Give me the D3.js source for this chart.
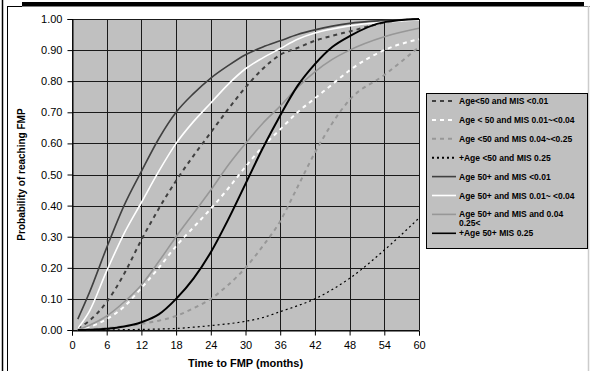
<!DOCTYPE html>
<html>
<head>
<meta charset="utf-8">
<script src="https://cdn.jsdelivr.net/npm/d3@7"></script>
<style>
  body { margin: 0; background: #fff; }
  svg { display: block; font-family: Arial, "Liberation Sans", sans-serif; }
</style>
</head>
<body>
<div id="chart"></div>
<script>
const months = [1, 3, 6, 9, 12, 15, 18, 21, 24, 27, 30, 33, 36, 39, 42, 45, 48, 54, 60];

// cumulative probability of reaching FMP, one array per group
const under50Mis001 = [0.005, 0.03, 0.09, 0.18, 0.29, 0.39, 0.48, 0.56, 0.635, 0.71, 0.78, 0.84, 0.885, 0.907, 0.93, 0.946, 0.96, 0.988, 1.0];
const under50Mis004 = [0.0, 0.01, 0.035, 0.075, 0.135, 0.20, 0.27, 0.33, 0.39, 0.455, 0.525, 0.59, 0.645, 0.70, 0.745, 0.79, 0.835, 0.90, 0.935];
const under50Mis025 = [0.0, 0.002, 0.006, 0.012, 0.02, 0.03, 0.045, 0.07, 0.10, 0.145, 0.20, 0.27, 0.35, 0.46, 0.57, 0.665, 0.74, 0.82, 0.91];
const under50MisHigh = [0.0, 0.0, 0.0, 0.001, 0.002, 0.003, 0.005, 0.009, 0.014, 0.02, 0.028, 0.04, 0.059, 0.078, 0.10, 0.13, 0.166, 0.257, 0.36];
const over50Mis001 = [0.035, 0.12, 0.265, 0.40, 0.51, 0.615, 0.70, 0.76, 0.81, 0.85, 0.885, 0.91, 0.93, 0.95, 0.965, 0.977, 0.986, 0.995, 1.0];
const over50Mis004 = [0.005, 0.06, 0.19, 0.31, 0.41, 0.51, 0.60, 0.67, 0.73, 0.79, 0.84, 0.875, 0.905, 0.935, 0.955, 0.968, 0.978, 0.99, 0.997];
const over50Mis025 = [0.0, 0.015, 0.045, 0.09, 0.145, 0.22, 0.30, 0.375, 0.45, 0.53, 0.60, 0.665, 0.72, 0.78, 0.83, 0.87, 0.90, 0.943, 0.97];
const over50MisHigh = [0.0, 0.001, 0.004, 0.011, 0.025, 0.05, 0.10, 0.165, 0.25, 0.355, 0.47, 0.585, 0.69, 0.785, 0.855, 0.91, 0.945, 0.99, 1.0];

const seriesLabels = [
  "Age<50 and MIS <0.01",
  "Age < 50 and MIS 0.01~<0.04",
  "Age <50 and MIS 0.04~<0.25",
  "+Age <50 and MIS 0.25",
  "Age 50+ and MIS <0.01",
  "Age 50+ and MIS 0.01~ <0.04",
  "Age 50+ and MIS and 0.04\n0.25<",
  "+Age 50+ MIS 0.25"
];
const seriesValues = [under50Mis001, under50Mis004, under50Mis025, under50MisHigh,
  over50Mis001, over50Mis004, over50Mis025, over50MisHigh];

const xTicks = d3.range(0, 61, 6);
const yTicks = d3.range(0, 11).map(d => d / 10);

// line styles, same order as the series
const styles = [
  { color: '#404040', dash: '4,4', width: 2 },
  { color: '#ffffff', dash: '4,4', width: 2 },
  { color: '#979797', dash: '4,4', width: 2 },
  { color: '#000000', dash: '2,3', width: 1.2 },
  { color: '#404040', dash: null, width: 1.6 },
  { color: '#ffffff', dash: null, width: 1.6 },
  { color: '#979797', dash: null, width: 1.6 },
  { color: '#000000', dash: null, width: 2 }
];

const W = 590, H = 371;
const svg = d3.select('#chart').append('svg')
  .attr('width', W)
  .attr('height', H);

svg.append('rect').attr('width', W).attr('height', H).attr('fill', '#fff');

// frame bits round the picture
svg.append('line').attr('x1', 2.5).attr('x2', 2.5).attr('y1', 0).attr('y2', H)
  .attr('stroke', '#000').attr('stroke-width', 1.5);
svg.append('line').attr('x1', 7.5).attr('x2', 7.5).attr('y1', 6).attr('y2', H)
  .attr('stroke', '#000').attr('stroke-width', 1);
svg.append('line').attr('x1', 7.5).attr('x2', 22).attr('y1', 6.5).attr('y2', 6.5)
  .attr('stroke', '#000').attr('stroke-width', 1);
svg.append('rect').attr('x', 22).attr('y', 2).attr('width', 562).attr('height', 4.5)
  .attr('fill', '#000');
svg.append('line').attr('x1', 584).attr('x2', 590).attr('y1', 6.5).attr('y2', 6.5)
  .attr('stroke', '#888').attr('stroke-width', 1);
svg.append('line').attr('x1', 588.5).attr('x2', 588.5).attr('y1', 6).attr('y2', H)
  .attr('stroke', '#ccc').attr('stroke-width', 1.5);

const x = d3.scaleLinear().domain([0, 60]).range([72, 419]);
const y = d3.scaleLinear().domain([0, 1]).range([330, 19]);

// plot background
svg.append('rect')
  .attr('x', x(0)).attr('y', y(1))
  .attr('width', x(60) - x(0)).attr('height', y(0) - y(1))
  .attr('fill', '#c0c0c0');

// grid
svg.append('g').selectAll('line').data(yTicks).enter().append('line')
  .attr('x1', x(0)).attr('x2', x(60))
  .attr('y1', d => Math.round(y(d)) + 0.5).attr('y2', d => Math.round(y(d)) + 0.5)
  .attr('stroke', '#1a1a1a').attr('stroke-width', 1);
svg.append('g').selectAll('line').data(xTicks).enter().append('line')
  .attr('y1', y(1)).attr('y2', y(0))
  .attr('x1', d => Math.round(x(d)) + 0.5).attr('x2', d => Math.round(x(d)) + 0.5)
  .attr('stroke', '#1a1a1a').attr('stroke-width', 1);

// axes
const yAxis = svg.append('g')
  .attr('transform', `translate(${Math.round(x(0)) + 0.5},0)`)
  .call(d3.axisLeft(y).tickValues(yTicks).tickFormat(d3.format('.2f')).tickSize(5).tickPadding(5));
const xAxis = svg.append('g')
  .attr('transform', `translate(0,${Math.round(y(0)) + 0.5})`)
  .call(d3.axisBottom(x).tickValues(xTicks).tickSize(5).tickPadding(6));
[yAxis, xAxis].forEach(g => {
  g.select('.domain').attr('stroke', '#000');
  g.selectAll('.tick line').attr('stroke', '#000');
  g.selectAll('text').attr('font-size', 11).attr('fill', '#000')
    .attr('font-family', 'Arial, "Liberation Sans", sans-serif');
});

// curves
const line = d3.line()
  .x((d, i) => x(months[i]))
  .y(d => y(d))
  .curve(d3.curveMonotoneX);

svg.append('g').selectAll('path')
  .data(seriesValues)
  .enter()
  .append('path')
  .attr('d', d => line(d))
  .attr('fill', 'none')
  .attr('stroke', (d, i) => styles[i].color)
  .attr('stroke-width', (d, i) => styles[i].width)
  .attr('stroke-dasharray', (d, i) => styles[i].dash);

// axis titles
svg.append('text')
  .attr('x', (x(0) + x(60)) / 2)
  .attr('y', 367)
  .attr('text-anchor', 'middle')
  .attr('font-size', 11)
  .attr('font-weight', 'bold')
  .text('Time to FMP (months)');

svg.append('text')
  .attr('transform', `translate(25,${(y(0) + y(1)) / 2}) rotate(-90)`)
  .attr('text-anchor', 'middle')
  .attr('font-size', 10)
  .attr('font-weight', 'bold')
  .text('Probability of reaching FMP');

// legend
const legend = svg.append('g');
legend.append('rect')
  .attr('x', 426.5).attr('y', 93.5)
  .attr('width', 161).attr('height', 155)
  .attr('fill', '#c0c0c0').attr('stroke', '#000').attr('stroke-width', 1);

const rows = legend.selectAll('g.row')
  .data(seriesLabels)
  .enter()
  .append('g')
  .attr('class', 'row')
  .attr('transform', (d, i) => `translate(0,${101 + i * 18.9})`);

rows.append('line')
  .attr('x1', 432).attr('x2', 456)
  .attr('y1', 0).attr('y2', 0)
  .attr('stroke', (d, i) => styles[i].color)
  .attr('stroke-width', (d, i) => styles[i].dash ? 2 : 1.6)
  .attr('stroke-dasharray', (d, i) => styles[i].dash);

rows.append('text')
  .attr('x', 459)
  .attr('y', 3)
  .attr('font-size', 8.5)
  .attr('font-weight', 'bold')
  .each(function (d) {
    d.split('\n').forEach((part, k) => {
      d3.select(this).append('tspan')
        .attr('x', 459)
        .attr('dy', k === 0 ? 0 : 8.7)
        .text(part);
    });
  });
</script>
</body>
</html>
